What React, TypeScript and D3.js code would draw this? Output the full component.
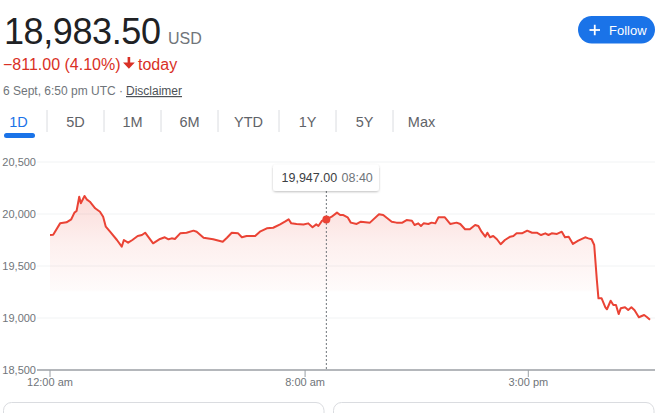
import React from "react";
import * as d3 from "d3";

const times = [
  "00:00","00:06","00:19","00:31","00:40","00:46","00:50","00:55","00:58","01:05",
  "01:09","01:15","01:25","01:34","01:40","01:45","01:53","02:06","02:15","02:19",
  "02:27","02:35","02:45","02:53","02:59","03:14","03:27","03:36","03:43","03:49",
  "03:55","04:05","04:17","04:30","04:36","04:49","05:07","05:25","05:33","05:42",
  "05:54","06:01","06:10","06:26","06:35","06:48","07:00","07:13","07:22","07:29",
  "07:34","07:44","07:57","08:06","08:14","08:21","08:25","08:32","08:40","08:50",
  "09:00","09:06","09:12","09:20","09:26","09:37","09:45","10:02","10:19","10:27",
  "10:43","10:52","11:03","11:11","11:21","11:26","11:33","11:38","11:43","11:52",
  "11:58","12:05","12:11","12:23","12:33","12:45","12:52","13:01","13:10","13:20",
  "13:26","13:32","13:39","13:43","13:48","13:54","14:01","14:08","14:16","14:26",
  "14:32","14:38","14:48","14:58","15:07","15:16","15:24","15:32","15:38","15:44",
  "15:54","16:03","16:09","16:16","16:24","16:34","16:47","16:53","16:59","17:04",
  "17:09","17:12","17:18","17:25","17:28","17:35","17:40","17:45","17:50","17:54",
  "18:02","18:08","18:14","18:20","18:28","18:38","18:43","18:49"
];
const prices = [
  19798,19800,19910,19920,19949,20013,20029,20166,20103,20173,
  20141,20118,20055,20022,19974,19878,19830,19750,19686,19750,
  19724,19750,19788,19798,19820,19718,19760,19776,19757,19766,
  19760,19814,19820,19840,19830,19772,19757,19734,19772,19820,
  19814,19776,19788,19788,19830,19862,19868,19900,19926,19949,
  19910,19904,19900,19910,19872,19900,19885,19936,19947,19974,
  20013,19990,19990,19968,19917,19904,19926,19917,19997,19990,
  19926,19917,19917,19942,19936,19894,19910,19885,19910,19904,
  19917,19910,19968,19968,19904,19917,19904,19853,19853,19894,
  19885,19830,19782,19820,19776,19788,19757,19709,19750,19782,
  19788,19814,19814,19840,19820,19820,19798,19814,19798,19814,
  19808,19830,19776,19782,19712,19743,19776,19766,19757,19702,
  19365,19189,19189,19103,19084,19166,19125,19125,19038,19093,
  19103,19077,19103,19074,19007,19029,19010,18983.5
];
const yTicks = [18500, 19000, 19500, 20000, 20500];
const xTickTimes = ["00:00", "08:00", "15:00"];
const xTickLabels = ["12:00 am", "8:00 am", "3:00 pm"];
const tabs = ["1D", "5D", "1M", "6M", "YTD", "1Y", "5Y", "Max"];
const tabWidths = [57, 57, 57, 57, 61, 57, 57, 57];
const hoverTime = "08:40";
const hoverPrice = 19947;

const FONT = "'Liberation Sans', Arial, Helvetica, sans-serif";
const RED = "#ea4335";

const toMin = (s: string) => {
  const [h, m] = s.split(":").map(Number);
  return h * 60 + m;
};

export default function App() {
  const data = times.map((t, i) => ({ t: toMin(t), v: prices[i] }));
  const x = d3.scaleLinear().domain([0, toMin(times[times.length - 1])]).range([50, 650]);
  const y = d3.scaleLinear().domain([18500, 20500]).range([370, 162]);
  const line = d3.line<{ t: number; v: number }>().x((d) => x(d.t)).y((d) => y(d.v));
  const area = d3
    .area<{ t: number; v: number }>()
    .x((d) => x(d.t))
    .y0(y(18500))
    .y1((d) => y(d.v));
  const fmt = d3.format(",");
  const hx = x(toMin(hoverTime));
  const hy = y(hoverPrice);

  let acc = -10;
  const tabPos = tabs.map((t, i) => {
    const start = acc;
    acc += tabWidths[i];
    return { t, start, end: acc, c: start + tabWidths[i] / 2 };
  });

  return (
    <svg
      width={672}
      height={413}
      style={{ position: "absolute", left: 0, top: 0, background: "#fff" }}
      fontFamily={FONT}
    >
      <defs>
        <linearGradient id="fillGrad" gradientUnits="userSpaceOnUse" x1="0" y1="190" x2="0" y2="372">
          <stop offset="0" stopColor={RED} stopOpacity={0.2} />
          <stop offset="0.3" stopColor={RED} stopOpacity={0.08} />
          <stop offset="0.55" stopColor={RED} stopOpacity={0.02} />
          <stop offset="0.56" stopColor={RED} stopOpacity={0.0} />
          <stop offset="1" stopColor={RED} stopOpacity={0} />
        </linearGradient>
        <filter id="shadow" x="-20%" y="-40%" width="140%" height="180%">
          <feDropShadow dx="0" dy="1" stdDeviation="1.2" floodColor="#000" floodOpacity="0.25" />
        </filter>
      </defs>

      {/* Header */}
      <text x={4} y={44} fontSize={36} fill="#202124" letterSpacing={-0.4}>
        18,983.50
      </text>
      <text x={168} y={44} fontSize={16} fill="#70757a">
        USD
      </text>
      <text x={3} y={70} fontSize={16} fill="#d93025">
        −811.00 (4.10%)
      </text>
      <path d="M127.6,57 h2.6 v5.5 h4.6 l-5.9,6.2 l-5.9,-6.2 h4.6 z" fill="#d93025" />
      <text x={138} y={70} fontSize={16} fill="#d93025">
        today
      </text>
      <text x={3} y={95} fontSize={12} fill="#70757a">
        6 Sept, 6:50 pm UTC ·
      </text>
      <text x={126} y={95} fontSize={12} fill="#4d5156" textDecoration="underline">
        Disclaimer
      </text>

      {/* Follow button */}
      <rect x={578} y={16} width={77} height={27.5} rx={13.75} fill="#1a73e8" />
      <line x1={589.5} x2={600} y1={30} y2={30} stroke="#fff" strokeWidth={1.8} />
      <line x1={594.75} x2={594.75} y1={24.75} y2={35.25} stroke="#fff" strokeWidth={1.8} />
      <text x={609} y={34.5} fontSize={13} fill="#fff" fontWeight={500}>
        Follow
      </text>

      {/* Tabs */}
      {tabPos.map((p, i) => (
        <g key={p.t}>
          <text
            x={p.c}
            y={127}
            fontSize={14.5}
            textAnchor="middle"
            fill={i === 0 ? "#1a73e8" : "#5f6368"}
          >
            {p.t}
          </text>
          {i < tabPos.length - 1 && (
            <line x1={p.end} x2={p.end} y1={110} y2={132} stroke="#dadce0" strokeWidth={1} />
          )}
        </g>
      ))}
      <rect x={4} y={133} width={31} height={5} rx={2.5} fill="#1a73e8" />

      {/* Grid */}
      {yTicks.map((v) => (
        <g key={v}>
          {v !== 18500 && (
            <line x1={37} x2={655} y1={y(v)} y2={y(v)} stroke="#f1f3f4" strokeWidth={1} />
          )}
          <text x={36} y={y(v) + 4} fontSize={11} textAnchor="end" fill="#70757a">
            {fmt(v)}
          </text>
        </g>
      ))}

      {/* Area + line */}
      <path d={area(data) || ""} fill="url(#fillGrad)" />
      <path d={line(data) || ""} fill="none" stroke={RED} strokeWidth={2} strokeLinejoin="round" />

      {/* X axis */}
      <line x1={37} x2={655} y1={370} y2={370} stroke="#b4b7bb" strokeWidth={2} />
      {xTickTimes.map((t, i) => (
        <g key={t}>
          <line x1={x(toMin(t))} x2={x(toMin(t))} y1={370} y2={377} stroke="#9aa0a6" strokeWidth={1} />
          <text x={x(toMin(t))} y={386} fontSize={11} textAnchor="middle" fill="#70757a">
            {xTickLabels[i]}
          </text>
        </g>
      ))}

      {/* Hover */}
      <line x1={hx} x2={hx} y1={191} y2={369} stroke="#70757a" strokeWidth={1} strokeDasharray="2,2" />
      <circle cx={hx} cy={hy} r={4} fill={RED} />
      <g filter="url(#shadow)">
        <rect x={273} y={164.5} width={106} height={26.5} rx={3} fill="#fff" />
      </g>
      <text x={281.5} y={182.3} fontSize={12.5} fill="#3c4043">
        {d3.format(",.2f")(hoverPrice)}
      </text>
      <text x={341.5} y={182.3} fontSize={12.5} fill="#70757a">
        {hoverTime}
      </text>

      {/* Bottom cards */}
      <rect x={3.5} y={402.5} width={320.5} height={40} rx={8} fill="#fff" stroke="#dadce0" />
      <rect x={333.5} y={402.5} width={320.5} height={40} rx={8} fill="#fff" stroke="#dadce0" />
    </svg>
  );
}
